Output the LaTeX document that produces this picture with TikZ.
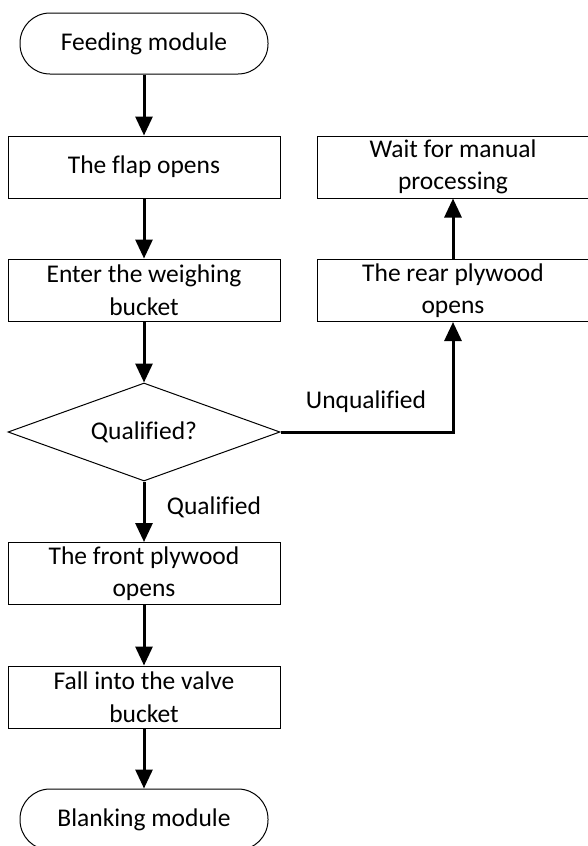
\documentclass[tikz,border=0pt]{standalone}
\usepackage{fontspec}
\setmainfont{Carlito}[Ligatures=NoCommon]
\usetikzlibrary{shapes.geometric,arrows.meta}
\newcommand{\fsz}{\fontsize{25.5}{32.5}\selectfont}
\begin{document}
\begin{tikzpicture}[x=1pt,y=-1pt,
  box/.style={draw, line width=1pt, minimum width=272pt, minimum height=62pt, align=center, inner sep=0pt, font=\fsz},
  term/.style={box, rounded corners=30pt, minimum width=248pt, minimum height=61pt},
  dec/.style={draw, line width=1pt, diamond, aspect=2.78, minimum width=272pt, minimum height=98pt, inner sep=0pt, font=\fsz},
  lbl/.style={font=\fsz, inner sep=0pt},
  arr/.style={line width=3pt, -{Triangle[length=19pt,width=17pt]}}]
\useasboundingbox (0,0) rectangle (588,846);
\begin{scope}
\clip (0,0) rectangle (588,846);
\node[term] (feed) at (144,43.5) {Feeding module};
\node[box] (flap) at (144,167) {The flap opens};
\node[box] (weigh) at (144,290) {Enter the weighing\\bucket};
\node[dec] (dec) at (144,432) {Qualified?};
\node[box] (front) at (144,573.5) {The front plywood\\opens};
\node[box] (valve) at (144,697) {Fall into the valve\\bucket};
\node[term] (blank) at (144,819.5) {Blanking module};
\node[box] (wait) at (453,167) {Wait for manual\\processing};
\node[box] (rear) at (453,290.5) {The rear plywood\\opens};
\draw[arr] (feed) -- (flap);
\draw[arr] (flap) -- (weigh);
\draw[arr] (weigh) -- (dec);
\draw[arr] (dec) -- (front);
\draw[arr] (front) -- (valve);
\draw[arr] (valve) -- (blank);
\draw[arr] (dec.east) -| (rear.south);
\draw[arr] (rear) -- (wait);
\node[lbl] (unq) at (366,402) {Unqualified};
\node[lbl] (qual) at (214,507) {Qualified};
\end{scope}
\end{tikzpicture}
\end{document}
